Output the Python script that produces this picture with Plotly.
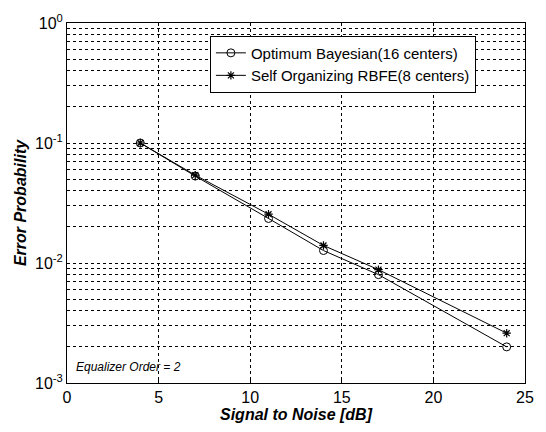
import plotly.graph_objects as go

snr = [4, 7, 11, 14, 17, 24]
bayes = [0.100, 0.053, 0.0235, 0.0127, 0.0080, 0.0020]
rbfe = [0.100, 0.054, 0.0255, 0.0140, 0.0088, 0.0026]
series_names = ["Optimum Bayesian(16 centers)", "Self Organizing RBFE(8 centers)"]
x_ticks = [0, 5, 10, 15, 20, 25]
decades = [-3, -2, -1, 0]

y_vals, y_text = [], []
for d in decades:
    for m in range(1, 10):
        if d == 0 and m > 1:
            break
        y_vals.append(m * 10 ** d)
        y_text.append("10<sup>%d</sup>" % d if m == 1 else "")

fig = go.Figure()
fig.add_trace(go.Scatter(
    x=snr, y=bayes, name=series_names[0], mode="lines+markers",
    line=dict(color="black", width=1),
    marker=dict(symbol="circle-open", size=8, color="black", line=dict(width=1)),
))
fig.add_trace(go.Scatter(
    x=snr, y=rbfe, name=series_names[1], mode="lines+markers",
    line=dict(color="black", width=1),
    marker=dict(symbol="asterisk-open", size=7, color="black", line=dict(width=1.2)),
))

fig.add_annotation(
    x=0.015, y=0.02, xref="paper", yref="paper", xanchor="left", yanchor="bottom",
    text="<i>Equalizer Order = 2</i>", showarrow=False,
    font=dict(family="Liberation Sans, Arial", size=12, color="black"),
)

fig.update_layout(
    width=546, height=432,
    margin=dict(l=67, r=14, t=21, b=47),
    paper_bgcolor="white", plot_bgcolor="white",
    font=dict(family="Liberation Sans, Arial", color="black", size=16),
    legend=dict(
        x=0.312, y=0.965, xanchor="left", yanchor="top",
        bordercolor="black", borderwidth=1, bgcolor="white",
        font=dict(size=15), tracegroupgap=0, itemwidth=30,
    ),
    showlegend=True,
)
fig.update_xaxes(
    range=[0, 25], tickvals=x_ticks, ticks="inside", ticklen=4, tickcolor="black",
    showline=True, linecolor="black", linewidth=1, mirror=True,
    showgrid=True, gridcolor="black", gridwidth=1, griddash="3px,3px",
    zeroline=False,
    title=dict(text="<b><i>Signal to Noise [dB]</i></b>", font=dict(size=16), standoff=3),
    tickfont=dict(size=16),
)
fig.update_yaxes(
    type="log", range=[-3, 0], tickvals=y_vals, ticktext=y_text,
    ticks="inside", ticklen=3, tickcolor="black",
    showline=True, linecolor="black", linewidth=1, mirror=True,
    showgrid=True, gridcolor="black", gridwidth=1, griddash="3px,3px",
    zeroline=False,
    title=dict(text="<b><i>Error Probability</i></b>", font=dict(size=16), standoff=4),
    tickfont=dict(size=16),
)

fig.write_html("out.html")
